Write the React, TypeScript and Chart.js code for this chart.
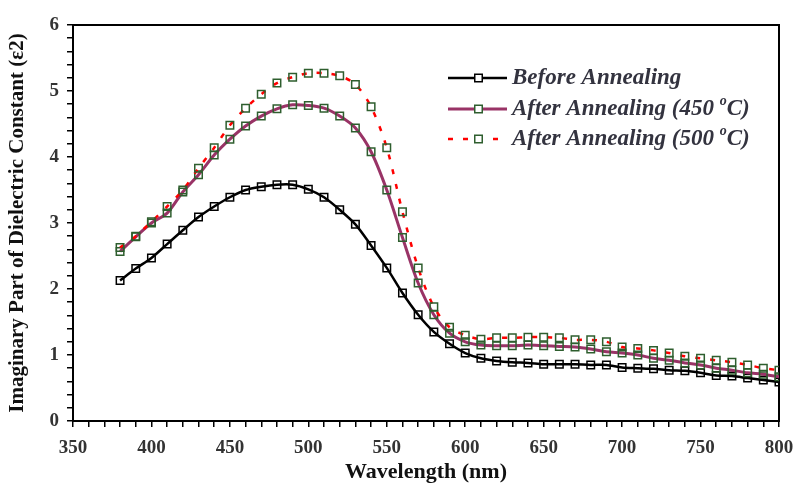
import React, { useEffect, useRef } from 'react';
import { Chart, registerables } from 'chart.js';

Chart.register(...registerables);

const WAVELENGTHS = [
  380, 390, 400, 410, 420, 430, 440, 450, 460, 470, 480, 490,
  500, 510, 520, 530, 540, 550, 560, 570, 580, 590,
  600, 610, 620, 630, 640, 650, 660, 670, 680, 690,
  700, 710, 720, 730, 740, 750, 760, 770, 780, 790, 800,
];

const BEFORE = [
  2.13, 2.31, 2.47, 2.68, 2.89, 3.09, 3.25, 3.39, 3.5, 3.55, 3.58, 3.58,
  3.51, 3.39, 3.2, 2.98, 2.66, 2.32, 1.94, 1.61, 1.35, 1.17,
  1.03, 0.95, 0.91, 0.89, 0.88, 0.86, 0.86, 0.86, 0.85, 0.85,
  0.81, 0.8, 0.79, 0.77, 0.76, 0.73, 0.69, 0.68, 0.65, 0.62, 0.59,
];

const AFTER_450 = [
  2.57, 2.79, 3.0, 3.15, 3.47, 3.73, 4.03, 4.27, 4.47, 4.62, 4.73, 4.79,
  4.78, 4.74, 4.62, 4.44, 4.08, 3.5, 2.78, 2.09, 1.61, 1.33,
  1.2, 1.15, 1.14, 1.14, 1.15, 1.14, 1.13, 1.12, 1.09, 1.05,
  1.03, 1.0, 0.95, 0.92, 0.88, 0.85, 0.8, 0.77, 0.73, 0.71, 0.67,
];

const AFTER_500 = [
  2.63, 2.8, 3.02, 3.25, 3.5, 3.83, 4.14, 4.48, 4.74, 4.95, 5.12, 5.21,
  5.27, 5.27, 5.23, 5.1, 4.76, 4.14, 3.17, 2.32, 1.73, 1.42,
  1.3, 1.24, 1.26, 1.26, 1.27, 1.27, 1.26, 1.23, 1.23, 1.2,
  1.12, 1.1, 1.07, 1.03, 0.98, 0.95, 0.92, 0.89, 0.85, 0.8, 0.77,
];

const SERIES_LABELS = ['Before Annealing', 'After Annealing (450 °C)', 'After Annealing (500 °C)'];
const LEGEND_MAIN = ['Before Annealing', 'After Annealing (450 ', 'After Annealing (500 '];
const LEGEND_SUP = ['', 'o', 'o'];
const LEGEND_TAIL = ['', 'C)', 'C)'];

const X_TITLE = 'Wavelength (nm)';
const Y_TITLE = 'Imaginary Part of Dielectric Constant (\u03b52)';

const SERIF = "'Liberation Serif', 'Times New Roman', serif";

const boxPlugin = {
  id: 'boxPlugin',
  beforeDatasetsDraw(chart: any) {
    const { ctx, chartArea } = chart;
    ctx.save();
    ctx.strokeStyle = '#000';
    ctx.lineWidth = 2;
    ctx.strokeRect(chartArea.left, chartArea.top, chartArea.right - chartArea.left, chartArea.bottom - chartArea.top);
    ctx.restore();
  },
};

const legendPlugin = {
  id: 'customLegend',
  afterDraw(chart: any) {
    const { ctx } = chart;
    const x0 = 448;
    const x1 = 507;
    const textX = 512;
    const rowY = [78, 109, 139];
    ctx.save();
    chart.data.datasets.forEach((ds: any, i: number) => {
      const y = rowY[i];
      ctx.save();
      ctx.strokeStyle = ds.borderColor;
      ctx.lineWidth = ds.borderWidth;
      ctx.setLineDash(ds.borderDash || []);
      ctx.beginPath();
      ctx.moveTo(x0, y);
      ctx.lineTo(x1, y);
      ctx.stroke();
      ctx.restore();
      const mx = (x0 + x1) / 2 + 1;
      const s = 7.5;
      ctx.save();
      ctx.fillStyle = '#fff';
      ctx.fillRect(mx - s / 2, y - s / 2, s, s);
      ctx.strokeStyle = ds.pointBorderColor;
      ctx.lineWidth = 1.5;
      ctx.strokeRect(mx - s / 2, y - s / 2, s, s);
      ctx.restore();

      ctx.fillStyle = '#33333f';
      ctx.textBaseline = 'middle';
      ctx.textAlign = 'left';
      ctx.font = `italic bold 23px ${SERIF}`;
      let tx = textX;
      ctx.fillText(LEGEND_MAIN[i], tx, y);
      tx += ctx.measureText(LEGEND_MAIN[i]).width;
      if (LEGEND_SUP[i]) {
        ctx.font = `italic bold 14px ${SERIF}`;
        ctx.fillText(LEGEND_SUP[i], tx, y - 8);
        tx += ctx.measureText(LEGEND_SUP[i]).width;
        ctx.font = `italic bold 23px ${SERIF}`;
        ctx.fillText(LEGEND_TAIL[i], tx, y);
      }
    });
    ctx.restore();
  },
};

export default function App() {
  const ref = useRef<HTMLCanvasElement>(null);

  useEffect(() => {
    const toPoints = (vals: number[]) => WAVELENGTHS.map((x, i) => ({ x, y: vals[i] }));
    const chart = new Chart(ref.current as HTMLCanvasElement, {
      type: 'line',
      data: {
        datasets: [
          {
            label: SERIES_LABELS[0],
            data: toPoints(BEFORE),
            borderColor: '#000000',
            borderWidth: 2.5,
            pointStyle: 'rect',
            pointRadius: 5.3,
            pointBorderColor: '#000000',
            pointBackgroundColor: 'rgba(255,255,255,0)',
            pointBorderWidth: 1.5,
            tension: 0.3,
            order: 3,
          } as any,
          {
            label: SERIES_LABELS[1],
            data: toPoints(AFTER_450),
            borderColor: '#993366',
            borderWidth: 3,
            pointStyle: 'rect',
            pointRadius: 5.3,
            pointBorderColor: '#2e5e2e',
            pointBackgroundColor: 'rgba(255,255,255,0)',
            pointBorderWidth: 1.5,
            tension: 0.3,
            order: 2,
          } as any,
          {
            label: SERIES_LABELS[2],
            data: toPoints(AFTER_500),
            borderColor: '#ff0000',
            borderWidth: 2.5,
            borderDash: [5, 10],
            pointStyle: 'rect',
            pointRadius: 5.3,
            pointBorderColor: '#2e5e2e',
            pointBackgroundColor: 'rgba(255,255,255,0)',
            pointBorderWidth: 1.5,
            tension: 0.3,
            order: 1,
          } as any,
        ],
      },
      options: {
        animation: false,
        responsive: true,
        maintainAspectRatio: false,
        layout: { padding: { top: 25, right: 16, left: 0, bottom: 0 } },
        plugins: {
          legend: { display: false },
          tooltip: { enabled: false },
        },
        scales: {
          x: {
            type: 'linear',
            min: 350,
            max: 800,
            ticks: {
              stepSize: 10,
              autoSkip: false,
              maxRotation: 0,
              minRotation: 0,
              padding: 10,
              color: '#333333',
              font: { family: SERIF, size: 19, weight: 'bold' },
              callback: (v: any) => (Math.round(v) % 50 === 0 ? String(Math.round(v)) : ''),
            },
            grid: { drawOnChartArea: false, drawTicks: true, tickLength: 6, color: '#000', lineWidth: 1.5 },
            border: { display: false },
            title: {
              display: true,
              text: X_TITLE,
              color: '#111111',
              font: { family: SERIF, size: 22, weight: 'bold' },
              padding: { top: 0, bottom: 4 },
            },
            afterFit: (s: any) => {
              s.height = 69;
              s.paddingLeft = 0;
              s.paddingRight = 0;
            },
          } as any,
          y: {
            type: 'linear',
            min: 0,
            max: 6,
            ticks: {
              stepSize: 0.2,
              autoSkip: false,
              padding: 8,
              color: '#333333',
              font: { family: SERIF, size: 19, weight: 'bold' },
              callback: (v: any) => (Math.abs(v - Math.round(v)) < 1e-6 ? String(Math.round(v)) : ''),
            },
            grid: { drawOnChartArea: false, drawTicks: true, tickLength: 6, color: '#000', lineWidth: 1.5 },
            border: { display: false },
            title: {
              display: true,
              text: Y_TITLE,
              color: '#111111',
              font: { family: SERIF, size: 21, weight: 'bold' },
              padding: { top: 5, bottom: 0 },
            },
            afterFit: (s: any) => {
              s.width = 73;
              s.paddingTop = 0;
              s.paddingBottom = 0;
            },
          } as any,
        },
      },
      plugins: [boxPlugin, legendPlugin],
    } as any);
    return () => chart.destroy();
  }, []);

  return (
    <div style={{ position: 'fixed', left: 0, top: 0, width: 795, height: 490, background: '#ffffff' }}>
      <canvas ref={ref} />
    </div>
  );
}
